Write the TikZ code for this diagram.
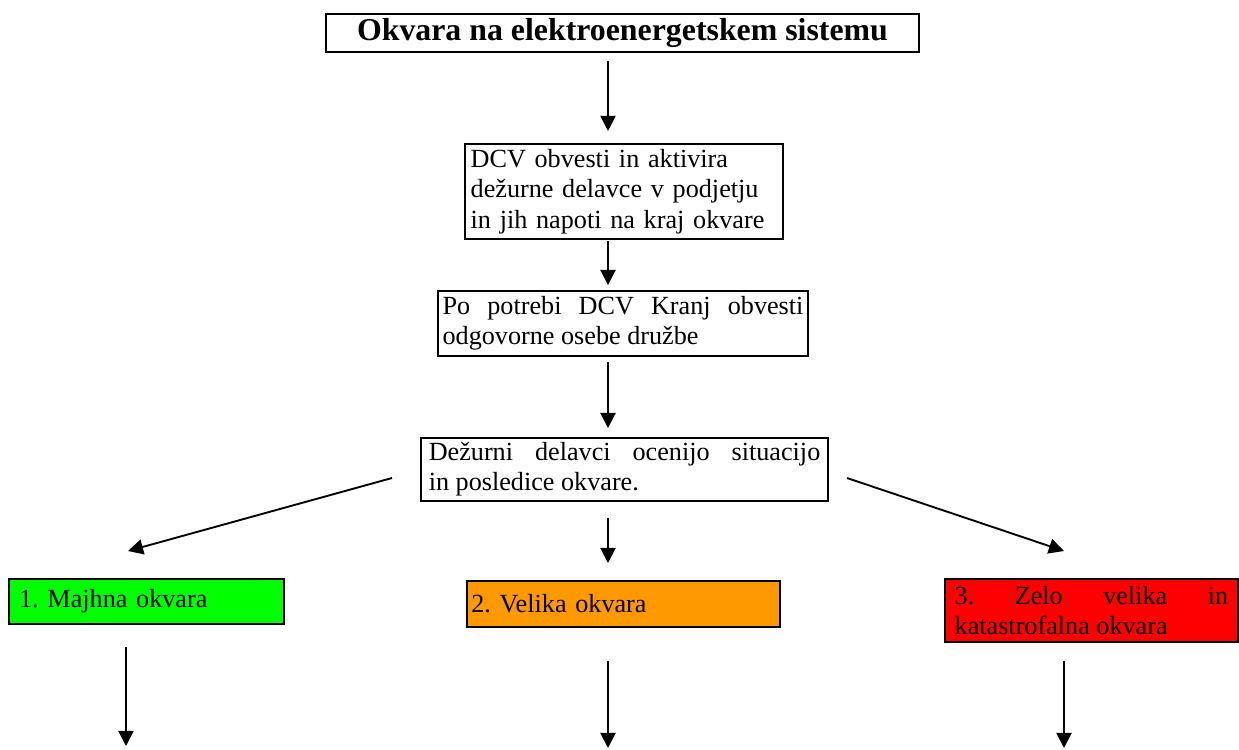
\documentclass[tikz,border=0pt]{standalone}
\usepackage{fontspec}
\setmainfont{Liberation Serif}
\usetikzlibrary{arrows.meta}
\frenchspacing
\tolerance=10000
\hyphenpenalty=10000

\definecolor{zelena}{HTML}{00FF00}
\definecolor{oranzna}{HTML}{FF9900}
\definecolor{rdeca}{HTML}{FF0000}

\tikzset{
  okvir/.style={draw, line width=0.85pt, anchor=north west, inner xsep=1.7pt, inner ysep=1pt,
    font=\fontsize{11.1}{12.8}\selectfont},
  besedilo/.style={okvir, align=justify},
  puscica/.style={line width=0.8pt, -{Triangle[length=6.4pt,width=6.4pt]}}
}

\begin{document}
\begin{tikzpicture}[x=0.424pt, y=-0.424pt]
  \useasboundingbox (0,0) rectangle (1239,749);
  \node[okvir, minimum width=251.4pt, minimum height=16.1pt,
    font=\fontsize{13.5}{16}\selectfont\bfseries] (naslov) at (325,13)
    {Okvara na elektroenergetskem sistemu};
  \node[okvir, align=left, text width=130pt, minimum width=134.8pt, minimum height=40.3pt]
    (aktivira) at (464,143)
    {DCV obvesti in aktivira\\dežurne delavce v podjetju\\in jih napoti na kraj okvare};
  \node[besedilo, text width=153pt, minimum width=156.9pt, minimum height=27.6pt]
    (potrebi) at (437,290)
    {Po potrebi DCV Kranj obvesti\linebreak odgovorne osebe družbe};
  \node[besedilo, text width=166pt, minimum width=172.6pt, minimum height=26.7pt]
    (ocenijo) at (420,437)
    {Dežurni delavci ocenijo situacijo\linebreak in posledice okvare.};
  \node[okvir, align=left, fill=zelena, text width=108pt, minimum width=116.6pt,
    minimum height=19.1pt] (majhna) at (8,578) {1. Majhna okvara};
  \node[okvir, align=left, fill=oranzna, text width=129pt, minimum width=132.7pt,
    minimum height=19.5pt] (velika) at (466,580) {2. Velika okvara};
  \node[besedilo, fill=rdeca, text width=116pt, minimum width=124.2pt,
    minimum height=26.7pt] (zelo) at (944,578)
    {3. Zelo velika in\linebreak katastrofalna okvara};

  \coordinate (os) at (608,0);
  \coordinate (lz) at (392,478);
  \coordinate (lk) at (128,551);
  \coordinate (dz) at (847,478);
  \coordinate (dk) at (1064,551);
  \coordinate (dno1) at (126,746);
  \coordinate (dno2) at (608,748);
  \coordinate (dno3) at (1064,748);
  \begin{scope}[puscica]
    \draw[shorten <=3.4pt, shorten >=5.1pt] (naslov.south -| os) to (aktivira.north -| os);
    \draw[shorten <=0.6pt, shorten >=2.1pt] (aktivira.south -| os) to (potrebi.north -| os);
    \draw[shorten <=2.1pt, shorten >=3.8pt] (potrebi.south -| os) to (ocenijo.north -| os);
    \draw[shorten <=6.8pt, shorten >=7.2pt] (ocenijo.south -| os) to (velika.north -| os);
    \draw (lz) to (lk);
    \draw (dz) to (dk);
    \draw[shorten <=9.3pt] (majhna.south -| dno1) to (dno1);
    \draw[shorten <=14pt] (velika.south -| dno2) to (dno2);
    \draw[shorten <=7.6pt] (zelo.south -| dno3) to (dno3);
  \end{scope}
\end{tikzpicture}
\end{document}
